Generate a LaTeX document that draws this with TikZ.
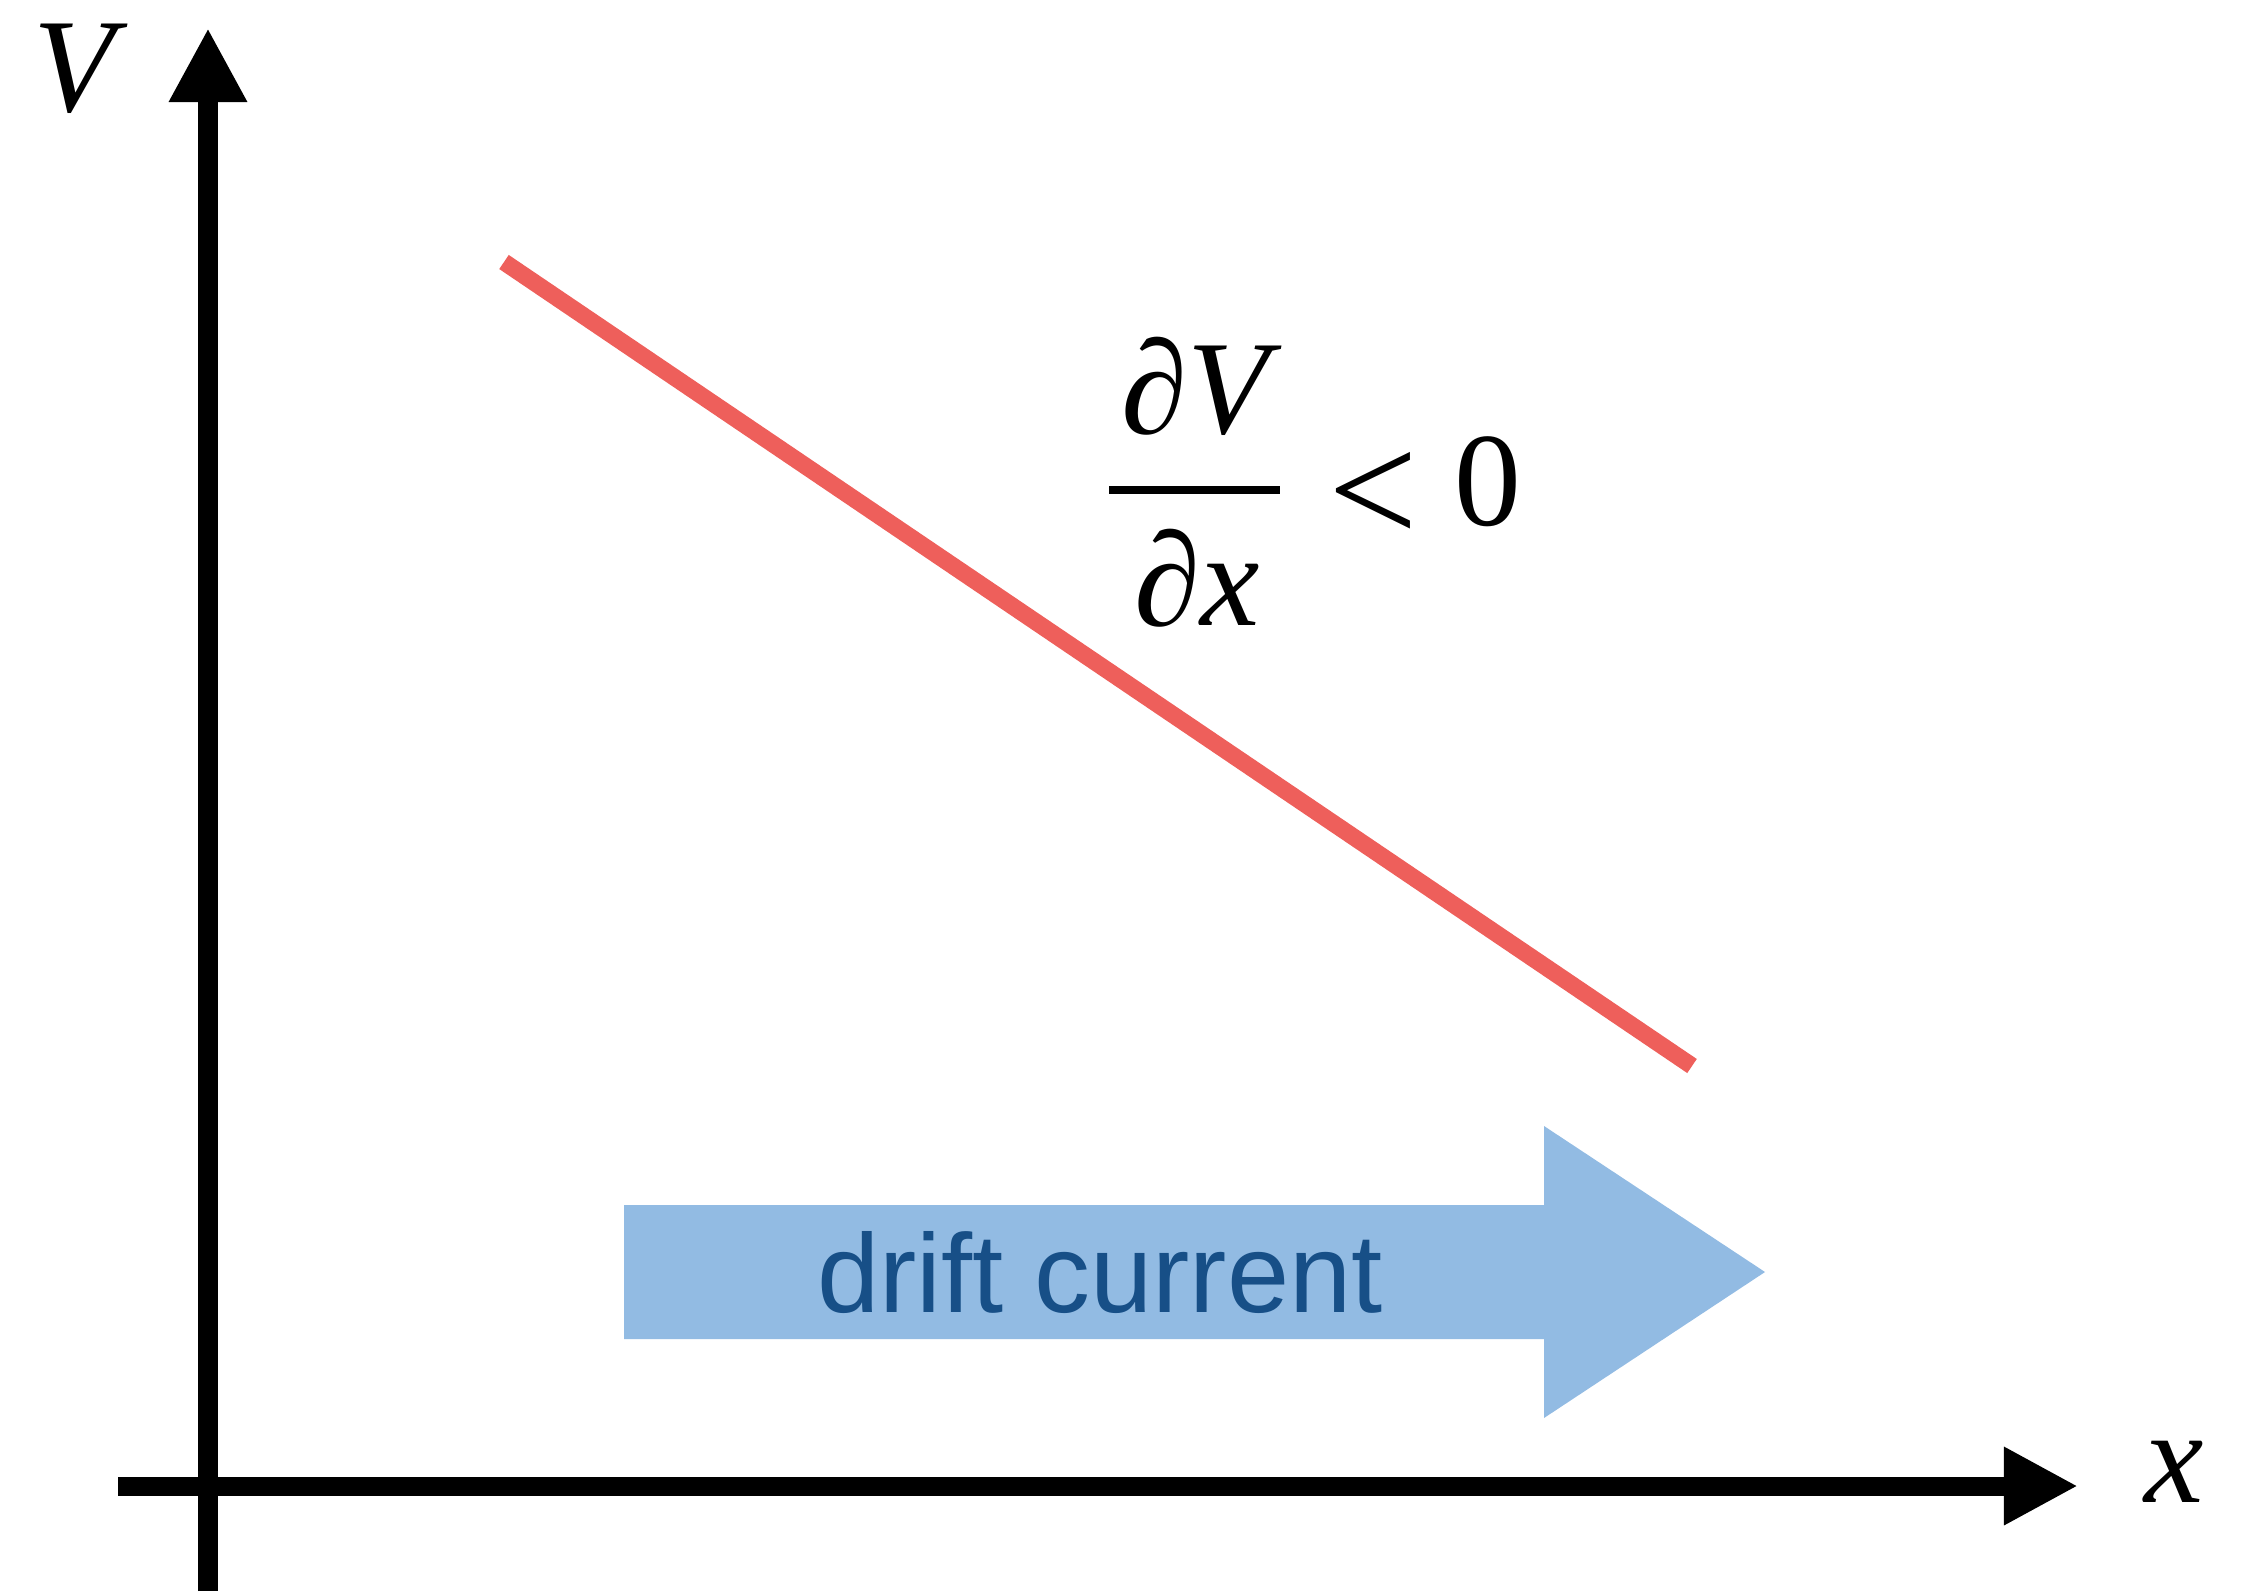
\documentclass[tikz,border=0pt]{standalone}
\usepackage{fontspec}
\setmainfont{Liberation Serif}
\newfontfamily\driftfont{Liberation Sans}
\usepackage{graphicx}
\usepackage{xcolor}
\definecolor{slopeRed}{HTML}{EE5F5B}
\definecolor{driftBlue}{HTML}{92BBE3}
\definecolor{driftText}{HTML}{174F87}
\usepackage{tikz}
\usetikzlibrary{
    arrows.meta,
    positioning
}
\tikzset{
    % Axes - thick black with large triangle heads
    axis line/.style={
        line width=0.19cm,
        -{Triangle[length=0.74cm, width=0.73cm]},
    },
    % Potential line - falling red slope
    slope line/.style={
        line width=0.17cm,
        draw=slopeRed,
    },
    % Fraction bar of the derivative
    frac bar/.style={
        line width=0.08cm,
    },
    % Big blue block arrow
    drift arrow/.style={
        fill=driftBlue,
        draw=none,
    },
    % Text inside the block arrow
    drift label/.style={
        font=\driftfont\fontsize{31.8}{38}\selectfont,
        text=driftText,
        inner sep=0pt,
        anchor=base,
    },
    % Italic axis letters
    axis label/.style={
        font=\fontsize{38}{46}\selectfont\itshape,
        inner sep=0pt,
        anchor=base,
    },
    % Pieces of the derivative
    math label/.style={
        font=\fontsize{38}{46}\selectfont,
        inner sep=0pt,
        anchor=base,
    },
}

\begin{document}
\begin{tikzpicture}[x=0.01cm, y=-0.01cm]
    \useasboundingbox (0,0) rectangle (2249,1591);

    % axes
    \coordinate (ybot) at (208,1591);
    \coordinate (ytop) at (208,28);
    \coordinate (xleft) at (118,1486);
    \coordinate (xright) at (2078,1486);
    \draw [axis line] (ybot) -- (ytop);
    \draw [axis line] (xleft) -- (xright);
    \node (vlabel) [axis label] at (74,112) {V};
    \node (xlabel) [axis label] at (2174,1502) {x};

    % potential
    \coordinate (vstart) at (504,262);
    \coordinate (vend) at (1692,1066);
    \draw [slope line] (vstart) -- (vend);

    % derivative
    \node (num) [math label] at (1202,433) {∂\textit{V}};
    \node (den) [math label] at (1197,625) {∂\textit{x}};
    \coordinate (barL) at (1109,490);
    \coordinate (barR) at (1280,490);
    \draw [frac bar] (barL) -- (barR);
    \node (ineq) [math label, anchor=base west] at (1328,525)
        {\raisebox{-5.4pt}{\scalebox{1.19}{<}}\hskip10.3pt0};

    % drift current
    \fill [drift arrow] (624,1205) -- (1544,1205) -- (1544,1126) -- (1765,1272)
        -- (1544,1418) -- (1544,1339) -- (624,1339) -- cycle;
    \node (drift) [drift label] at (1100,1312) {drift current};
\end{tikzpicture}
\end{document}
